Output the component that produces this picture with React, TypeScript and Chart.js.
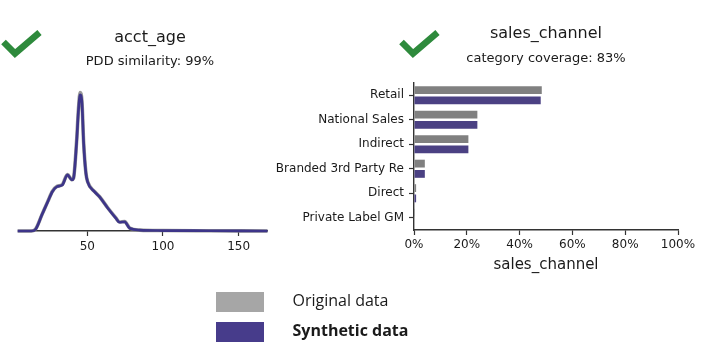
import React, { useEffect, useRef } from 'react';
import { Chart, registerables } from 'chart.js';

Chart.register(...registerables);

// ---------- data ----------
const ageValues = [4, 13, 16, 20, 24, 27, 30, 33.5, 36.9, 39.8, 40.9, 42.9, 44.2, 45.3, 46.5, 47.6, 49.1, 50.2, 54.7, 58, 63.6, 69, 71.3, 74.7, 78, 84.7, 100, 130, 169];
const ageOriginal = [0, 0, 0.1, 0.7, 1.3, 1.73, 1.94, 2.02, 2.45, 2.23, 2.3, 3.85, 5.32, 6.02, 5.6, 3.84, 2.52, 2.15, 1.72, 1.5, 1.0, 0.56, 0.39, 0.41, 0.13, 0.04, 0.02, 0.01, 0];
const ageSynthetic = [0, 0, 0.09, 0.7, 1.29, 1.72, 1.93, 2.0, 2.44, 2.22, 2.29, 3.81, 5.26, 5.92, 5.55, 3.81, 2.51, 2.14, 1.71, 1.49, 0.99, 0.55, 0.38, 0.4, 0.12, 0.04, 0.02, 0.01, 0];
const ageTicks = [50, 100, 150];

const channelCategories = ['Retail', 'National Sales', 'Indirect', 'Branded 3rd Party Re', 'Direct', 'Private Label GM'];
const channelOriginal = [48.4, 24.0, 20.6, 4.1, 0.8, 0.05];
const channelSynthetic = [48.0, 24.0, 20.6, 4.1, 0.8, 0.0];
const percentTicks = [0, 20, 40, 60, 80, 100];

const legendLabels = ['Original data', 'Synthetic data'];

// ---------- styling ----------
const W = 708;
const H = 352;
const FONT = "'DejaVu Sans', sans-serif";
const AXIS = '#333333';
const TEXT = '#1a1a1a';
const GREEN = '#2e8a3c';
const GREY_LINE = 'rgba(135,135,135,0.85)';
const PURPLE_LINE = '#3d3589';
const GREY_BAR = '#808080';
const PURPLE_BAR = '#4b4183';

Chart.defaults.font.family = FONT;

type Header = {
  title: string;
  titleX: number;
  titleY: number;
  subtitle: string;
  subY: number;
  checkDx: number;
};

function headerPlugin(h: Header) {
  return {
    id: 'header',
    afterDraw(chart: any) {
      const ctx = chart.ctx as CanvasRenderingContext2D;
      ctx.save();
      ctx.fillStyle = TEXT;
      ctx.textAlign = 'center';
      ctx.textBaseline = 'alphabetic';
      ctx.font = `16px ${FONT}`;
      ctx.fillText(h.title, h.titleX, h.titleY);
      ctx.font = `13px ${FONT}`;
      ctx.fillText(h.subtitle, h.titleX, h.subY);
      ctx.strokeStyle = GREEN;
      ctx.lineWidth = 6.5;
      ctx.lineJoin = 'miter';
      ctx.lineCap = 'butt';
      ctx.beginPath();
      ctx.moveTo(3.5 + h.checkDx, 42);
      ctx.lineTo(15 + h.checkDx, 53.5);
      ctx.lineTo(39.5 + h.checkDx, 32.5);
      ctx.stroke();
      ctx.restore();
    },
  };
}

const axisBorder = { display: true, color: AXIS, width: 1.4 };
const axisGrid = { display: true, drawOnChartArea: false, drawTicks: true, tickLength: 5, color: AXIS, tickWidth: 1.2 };

function buildAgeChart(): any {
  return {
    type: 'line',
    data: {
      datasets: [
        {
          label: legendLabels[1],
          data: ageValues.map((x, i) => ({ x, y: ageSynthetic[i] })),
          borderColor: PURPLE_LINE,
          borderWidth: 2.7,
          pointRadius: 0,
          cubicInterpolationMode: 'monotone',
          fill: false,
          clip: false,
          order: 1,
        },
        {
          label: legendLabels[0],
          data: ageValues.map((x, i) => ({ x, y: ageOriginal[i] })),
          borderColor: GREY_LINE,
          borderWidth: 3.6,
          pointRadius: 0,
          cubicInterpolationMode: 'monotone',
          fill: false,
          clip: false,
          order: 2,
        },
      ],
    },
    options: {
      responsive: false,
      animation: false,
      devicePixelRatio: 1,
      events: [],
      layout: { padding: { left: 19, right: W - 267, top: 70, bottom: 0 } },
      plugins: { legend: { display: false }, tooltip: { enabled: false } },
      scales: {
        x: {
          type: 'linear',
          min: 4.9,
          max: 168.7,
          afterBuildTicks: (s: any) => {
            s.ticks = ageTicks.map((v) => ({ value: v }));
          },
          afterFit: (s: any) => {
            s.height = H - 231;
          },
          border: axisBorder,
          grid: axisGrid,
          ticks: { color: TEXT, font: { family: FONT, size: 12 }, padding: 3.5, maxRotation: 0, autoSkip: false },
        },
        y: { display: false, min: 0, max: 7 },
      },
    },
    plugins: [
      headerPlugin({ title: 'acct_age', titleX: 150, titleY: 41.5, subtitle: 'PDD similarity: 99%', subY: 64.5, checkDx: 0 }),
    ],
  };
}

function buildChannelChart(): any {
  return {
    type: 'bar',
    data: {
      labels: channelCategories,
      datasets: [
        {
          label: legendLabels[0],
          data: channelOriginal,
          backgroundColor: GREY_BAR,
          barPercentage: 0.76,
          categoryPercentage: 0.84,
        },
        {
          label: legendLabels[1],
          data: channelSynthetic,
          backgroundColor: PURPLE_BAR,
          barPercentage: 0.76,
          categoryPercentage: 0.84,
        },
      ],
    },
    options: {
      indexAxis: 'y',
      responsive: false,
      animation: false,
      devicePixelRatio: 1,
      events: [],
      layout: { padding: { left: 0, right: W - 678, top: 83, bottom: 78 } },
      plugins: { legend: { display: false }, tooltip: { enabled: false } },
      scales: {
        x: {
          type: 'linear',
          min: 0,
          max: 100,
          afterBuildTicks: (s: any) => {
            s.ticks = percentTicks.map((v) => ({ value: v }));
          },
          afterFit: (s: any) => {
            s.height = 44;
          },
          border: axisBorder,
          grid: axisGrid,
          ticks: {
            color: TEXT,
            font: { family: FONT, size: 12 },
            padding: 3,
            maxRotation: 0,
            autoSkip: false,
            callback: (v: any) => `${v}%`,
          },
          title: {
            display: true,
            text: 'sales_channel',
            color: TEXT,
            font: { family: FONT, size: 15 },
            padding: { top: 0, bottom: 0 },
          },
        },
        y: {
          afterFit: (s: any) => {
            s.width = 414;
          },
          border: axisBorder,
          grid: { ...axisGrid, offset: false },
          ticks: { color: TEXT, font: { family: FONT, size: 12 }, padding: 5, autoSkip: false },
        },
      },
    },
    plugins: [
      headerPlugin({
        title: 'sales_channel',
        titleX: 546,
        titleY: 37.7,
        subtitle: 'category coverage: 83%',
        subY: 61.5,
        checkDx: 398,
      }),
    ],
  };
}

function ChartCanvas({ build }: { build: () => any }) {
  const ref = useRef<HTMLCanvasElement | null>(null);
  useEffect(() => {
    if (!ref.current) return;
    const chart = new Chart(ref.current, build());
    return () => chart.destroy();
  }, [build]);
  return (
    <canvas
      ref={ref}
      width={W}
      height={H}
      style={{ position: 'absolute', left: 0, top: 0, width: W, height: H }}
    />
  );
}

const legendColors = ['#a6a6a6', '#473c8b'];

export default function App() {
  return (
    <div
      style={{
        position: 'fixed',
        left: 0,
        top: 0,
        width: W,
        height: H,
        background: '#ffffff',
        overflow: 'hidden',
      }}
    >
      <ChartCanvas build={buildAgeChart} />
      <ChartCanvas build={buildChannelChart} />
      {legendLabels.map((label, i) => (
        <React.Fragment key={label}>
          <div
            style={{
              position: 'absolute',
              left: 216,
              top: 292 + i * 30,
              width: 48,
              height: 20,
              background: legendColors[i],
            }}
          />
          <div
            style={{
              position: 'absolute',
              left: 292.5,
              top: 290 + i * 30,
              height: 20,
              lineHeight: '20px',
              fontFamily: "'Open Sans', sans-serif",
              fontSize: 16,
              fontWeight: i === 1 ? 700 : 400,
              color: '#1a1a1a',
              whiteSpace: 'nowrap',
            }}
          >
            {label}
          </div>
        </React.Fragment>
      ))}
    </div>
  );
}
